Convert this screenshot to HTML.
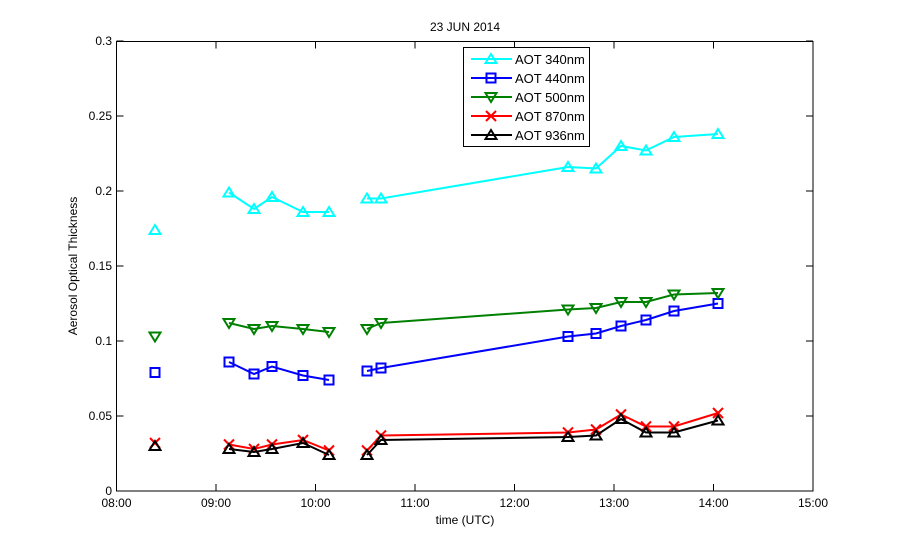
<!DOCTYPE html>
<html><head><meta charset="utf-8"><style>
body{margin:0;background:#fff;}
svg text{font-family:"Liberation Sans",sans-serif;font-size:12px;fill:#000;}
</style></head><body>
<svg width="900" height="552" viewBox="0 0 900 552" xmlns="http://www.w3.org/2000/svg">
<rect width="900" height="552" fill="#fff"/>
<rect x="116.5" y="41.5" width="696.5" height="449.5" fill="#fff" stroke="#000" stroke-width="1"/>
<g id="ticks" stroke="#000" stroke-width="1"></g>
<g id="labels"></g>
<text x="465" y="31" text-anchor="middle">23 JUN 2014</text>
<text x="465" y="524" text-anchor="middle">time  (UTC)</text>
<text transform="translate(77,266) rotate(-90)" text-anchor="middle">Aerosol Optical Thickness</text>
<g id="data"></g>
<rect x="463.5" y="47.5" width="126" height="99" fill="#fff" stroke="#000"/>
<g id="legend"></g>
</svg>
<script>
const NS="http://www.w3.org/2000/svg";
function el(p,t,a,txt){const e=document.createElementNS(NS,t);for(const k in a)e.setAttribute(k,a[k]);if(txt!==undefined)e.textContent=txt;p.appendChild(e);return e;}
const tk=document.getElementById('ticks'),lb=document.getElementById('labels');
for(let h=0;h<=7;h++){const x=116.5+h*99.5;
 el(tk,'line',{x1:x,y1:491,x2:x,y2:484});el(tk,'line',{x1:x,y1:41.5,x2:x,y2:48.5});
 el(lb,'text',{x:x,y:507,'text-anchor':'middle'},String(8+h).padStart(2,'0')+':00');}
const yl=['0','0.05','0.1','0.15','0.2','0.25','0.3'];
for(let i=0;i<=6;i++){const y=491-i*75;
 el(tk,'line',{x1:116.5,y1:y,x2:123.5,y2:y});el(tk,'line',{x1:813,y1:y,x2:806,y2:y});
 el(lb,'text',{x:112,y:y+4,'text-anchor':'end'},yl[i]);}
const X=[155,229,254,272,303,329,367,381,568,596,621,646,674,718];
const S=[
 ['#00ffff','tri',[.174,.199,.188,.196,.186,.186,.195,.195,.216,.215,.23,.227,.236,.238]],
 ['#0000ff','sq',[.079,.086,.078,.083,.077,.074,.080,.082,.103,.105,.110,.114,.120,.125]],
 ['#008000','dtri',[.103,.112,.108,.110,.108,.106,.108,.112,.121,.122,.126,.126,.131,.132]],
 ['#ff0000','x',[.032,.031,.028,.031,.034,.027,.027,.037,.039,.041,.051,.043,.043,.052]],
 ['#000000','tri',[.030,.028,.026,.028,.032,.024,.024,.034,.036,.037,.048,.039,.039,.047]]];
function mk(g,t,x,y,c){
 const a={fill:'none',stroke:c,'stroke-width':2};
 if(t=='tri')el(g,'polygon',Object.assign({points:`${x},${y-5} ${x-5.5},${y+4} ${x+5.5},${y+4}`},a));
 else if(t=='dtri')el(g,'polygon',Object.assign({points:`${x},${y+5} ${x-5.5},${y-4} ${x+5.5},${y-4}`},a));
 else if(t=='sq')el(g,'rect',Object.assign({x:x-4.5,y:y-4.5,width:9,height:9},a));
 else{el(g,'line',Object.assign({x1:x-5,y1:y-5,x2:x+5,y2:y+5},a));el(g,'line',Object.assign({x1:x-5,y1:y+5,x2:x+5,y2:y-5},a));}
}
const dg=document.getElementById('data');
S.forEach(([c,t,v])=>{const P=v.map((d,i)=>[X[i],491-d*1500]);
 [[1,5],[6,13]].forEach(([a,b])=>el(dg,'polyline',{points:P.slice(a,b+1).map(p=>p.join(',')).join(' '),fill:'none',stroke:c,'stroke-width':2}));
 P.forEach(p=>mk(dg,t,p[0],p[1],c));});
const lg=document.getElementById('legend');const names=['AOT 340nm','AOT 440nm','AOT 500nm','AOT 870nm','AOT 936nm'];
S.forEach(([c,t],i)=>{const y=59+i*19;el(lg,'line',{x1:471,y1:y,x2:512,y2:y,stroke:c,'stroke-width':2});mk(lg,t,491,y,c);
 el(lg,'text',{x:515,y:y+5,style:'font-size:13px'},names[i]);});
</script>
</body></html>
